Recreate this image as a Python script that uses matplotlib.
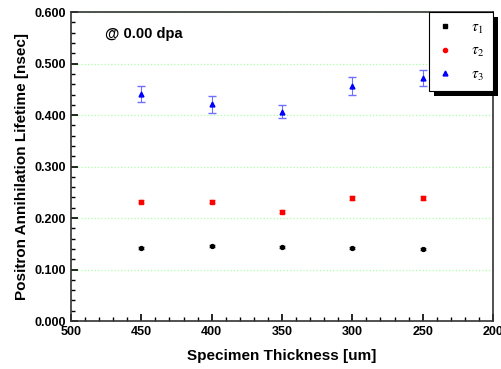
import numpy as np
import matplotlib
matplotlib.use("Agg")
import matplotlib.pyplot as plt
from matplotlib.ticker import MultipleLocator, FormatStrFormatter
from matplotlib.lines import Line2D
from matplotlib.patches import Rectangle

plt.rcParams['font.family'] = ['Liberation Sans', 'DejaVu Sans']
plt.rcParams['mathtext.fontset'] = 'stix'

# Données
thickness = [450, 400, 350, 300, 250]
tau1 = [0.142, 0.146, 0.144, 0.141, 0.140]
tau1_err = [0.002, 0.002, 0.002, 0.002, 0.002]
tau2 = [0.232, 0.232, 0.212, 0.239, 0.239]
tau2_err = [0.003, 0.003, 0.003, 0.003, 0.003]
tau3 = [0.441, 0.421, 0.407, 0.457, 0.472]
tau3_err = [0.016, 0.017, 0.013, 0.017, 0.016]

fig = plt.figure(figsize=(5.02, 3.69), dpi=100)
ax = fig.add_axes([0.1414, 0.130, 0.8406, 0.837])

ax.errorbar(thickness, tau1, yerr=tau1_err, fmt='o', color='black', ms=2.8,
            ecolor='#555555', elinewidth=0.8, capsize=2)
ax.errorbar(thickness, tau2, yerr=tau2_err, fmt='s', color='red', ms=2.8,
            ecolor='#ff6666', elinewidth=0.8, capsize=2)
ax.errorbar(thickness, tau3, yerr=tau3_err, fmt='^', color='blue', ms=3.5,
            ecolor='#6f6fff', elinewidth=0.8, capsize=3)

ax.set_xlim(500, 200)
ax.set_ylim(0.0, 0.6)
ax.xaxis.set_major_locator(MultipleLocator(50))
ax.xaxis.set_minor_locator(MultipleLocator(10))
ax.yaxis.set_major_locator(MultipleLocator(0.1))
ax.yaxis.set_minor_locator(MultipleLocator(0.02))
ax.yaxis.set_major_formatter(FormatStrFormatter('%.3f'))
ax.tick_params(which='both', direction='in', top=False, right=False)
ax.tick_params(which='major', length=5, width=1.2, labelsize=9)
ax.tick_params(which='minor', length=3, width=1)
for lab in ax.get_xticklabels() + ax.get_yticklabels():
    lab.set_fontweight('bold')
for s in ax.spines.values():
    s.set_linewidth(1.2)
    s.set_color('#333333')

ax.grid(axis='y', which='major', color='#aaffaa', linestyle=':', linewidth=0.9)

ax.set_xlabel('Specimen Thickness [um]', fontsize=11, fontweight='bold', labelpad=8)
ax.set_ylabel('Positron Annihilation Lifetime [nsec]', fontsize=11, fontweight='bold')
ax.text(0.08, 0.915, '@ 0.00 dpa', transform=ax.transAxes, fontsize=10.5,
        fontweight='bold')

# légende sans barres d'erreur, avec ombre noire décalée
handles = [Line2D([], [], ls='none', marker='s', color='black', ms=3),
           Line2D([], [], ls='none', marker='o', color='red', ms=3),
           Line2D([], [], ls='none', marker='^', color='blue', ms=3.5)]
labels = [r'$\tau_1$', r'$\tau_2$', r'$\tau_3$']
leg = ax.legend(handles, labels, loc='upper right', fancybox=False, framealpha=1,
                edgecolor='black', borderaxespad=0, fontsize=11, handletextpad=1.2,
                labelspacing=0.55, borderpad=0.55, handlelength=1.0)
leg.get_frame().set_linewidth(0.8)
leg.set_zorder(10)

fig.canvas.draw()
bb = leg.get_window_extent().transformed(fig.transFigure.inverted())
dx, dy = 5 / 502, 5 / 369
shadow = Rectangle((bb.x0 + dx, bb.y0 - dy), bb.width, bb.height,
                   transform=fig.transFigure, facecolor='black', edgecolor='none',
                   zorder=9, clip_on=False)
ax.add_artist(shadow)

fig.savefig('out.png', dpi=100)
